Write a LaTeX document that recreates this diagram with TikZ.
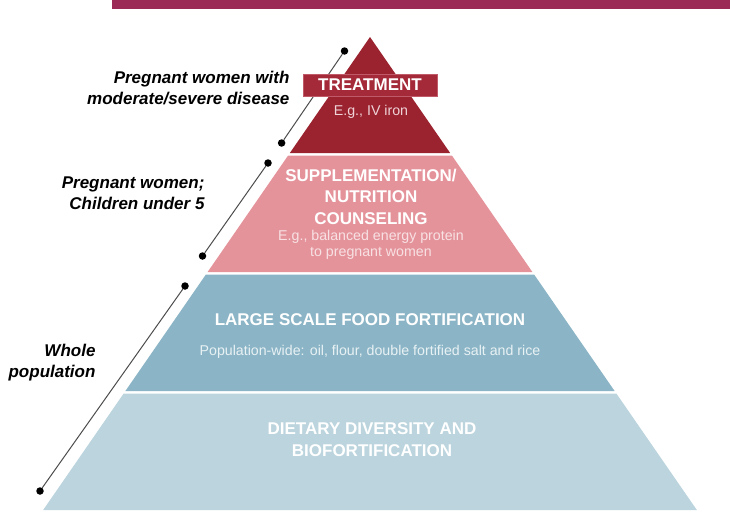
\documentclass[tikz,border=0pt]{standalone}
\usepackage{fontspec}
\setmainfont{Liberation Sans}
\definecolor{barplum}{HTML}{9C2A56}
\definecolor{treatred}{HTML}{9B2330}
\definecolor{treatbox}{HTML}{A42A39}
\definecolor{treatedge}{HTML}{C05A68}
\definecolor{supplpink}{HTML}{E5939B}
\definecolor{fortblue}{HTML}{8BB5C6}
\definecolor{dietblue}{HTML}{BBD4DD}
\definecolor{treattext}{HTML}{EFD3D7}
\definecolor{suppltext}{HTML}{F7E1E3}
\definecolor{forttext}{HTML}{E8F1F4}
\begin{document}
\begin{tikzpicture}[x=1pt,y=-1pt,
    head/.style = {text=white,font=\fontsize{17}{21.5}\selectfont\bfseries,align=center},
    sub/.style = {font=\fontsize{14.2}{16.5}\selectfont,align=center},
    group/.style = {font=\fontsize{17}{21}\selectfont\bfseries\itshape,align=right,anchor=east},
    dot/.style = {circle,fill=black,inner sep=0pt,minimum size=7.5pt},
    link/.style = {draw=black!70,line width=1pt}]
\useasboundingbox (0,0) rectangle (730,522);
\fill[barplum] (112,0) rectangle (730,9);
\foreach \yt/\yb/\c in {37/153/treatred, 155.5/272/supplpink, 274.5/391/fortblue, 393.5/510/dietblue}
    \fill[\c] ({370-0.691*(\yt-37)},\yt) -- ({370+0.691*(\yt-37)},\yt)
        -- ({370+0.691*(\yb-37)},\yb) -- ({370-0.691*(\yb-37)},\yb) -- cycle;
\foreach \n/\xa/\ya/\xb/\yb in {1/344.5/51/281.6/143, 2/268/163/202.5/256, 3/185/286/40/491} {
    \node[dot] (top\n) at (\xa,\ya) {};
    \node[dot] (bot\n) at (\xb,\yb) {};
    \draw[link] (top\n) -- (bot\n);
}
\node[head,fill=treatbox,draw=treatedge,line width=0.8pt,minimum width=134pt,minimum height=22pt,inner sep=0pt] (treat) at (370,85) {TREATMENT};
\node[sub,text=treattext] (treatsub) at (371,112) {E.g., IV iron};
\node[head] (suppl) at (371,196.5) {SUPPLEMENTATION/\\NUTRITION\\COUNSELING};
\node[sub,text=suppltext] (supplsub) at (371,245) {E.g., balanced energy protein\\to pregnant women};
\node[head] (fort) at (370,320) {LARGE SCALE FOOD FORTIFICATION};
\node[sub,text=forttext] (fortsub) at (370,352) {Population-wide: oil, flour, double fortified salt and rice};
\node[head] (diet) at (372,439.5) {DIETARY DIVERSITY AND\\BIOFORTIFICATION};
\node[group] (grp1) at (293,88.5) {Pregnant women with\\moderate/severe disease};
\node[group] (grp2) at (208,193) {Pregnant women;\\Children under 5};
\node[group] (grp3) at (99,362.5) {Whole\\population};
\end{tikzpicture}
\end{document}
